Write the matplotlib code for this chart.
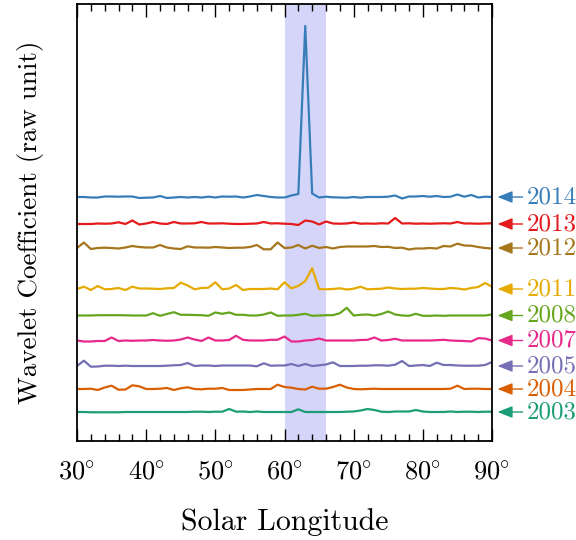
import numpy as np
import matplotlib
matplotlib.use("Agg")
import matplotlib.pyplot as plt

plt.rcParams["mathtext.fontset"] = "cm"
plt.rcParams["font.family"] = "cmr10"
plt.rcParams["axes.unicode_minus"] = False

# ── Data (raw wavelet coefficients, one value per degree 30..90) ──
lon = np.arange(30, 91)
years = ["2014", "2013", "2012", "2011", "2008", "2007", "2005", "2004", "2003"]
offsets = [244, 217, 193, 152, 125.5, 100.5, 75, 52, 29]
colors = ["#377eb8", "#e41a1c", "#a6761d", "#e6ab02", "#66a61e",
          "#e7298a", "#7570b3", "#d95f02", "#1b9e77"]

c2014 = [0, 0, -0.5, -0.5, 0.5, 0.5, 0.3, 0.5, 0.5, -1,
         -0.7, -0.5, 1, -1, -0.5, 0, -0.5, 0, -0.5, 0.3,
         -0.5, 0.5, 0.3, 0.5, -0.5, 0.5, 2, 1, 0, -0.5,
         -0.5, 1.5, 3, 171, 3.5, -0.5, 0.3, -0.3, -0.5, -0.7,
         0, -0.7, 0, 0, 0, 0.3, 1.5, -1.5, 0.5, 0.5,
         1, 0.3, 1, 0, 0.3, 2.5, 0.3, 2, -0.5, 0.3,
         0]
c2013 = [0, 0, 0, 0.5, 0.3, 0.5, 1.7, 0, 3.5, -0.5,
         0.5, 2, 0.5, 0, 2, 0.5, 0.5, 0.7, 2, 0.5,
         0.5, 0.7, 0.3, 0, 0, 0.3, 0.5, 2, 0.5, 0.7,
         0.3, 0, -1, 3.5, 2.5, -0.5, 2.5, 0.5, 0.3, 0.5,
         1.5, 0.3, 0.5, 0.3, 0.7, 0.5, 6, 0.5, 0.7, 0.3,
         0.5, 0.3, 0.5, 0.7, 0.5, 2, 0.5, 0.5, 0.3, 0.5,
         0.7]
c2012 = [0, 5.5, -1, 0, 0.3, 0, -0.5, 0.5, 2, 1,
         0.5, 0.5, 3, 0.5, -0.5, -1, 1.7, 0.5, 0.5, 0.3,
         1, 0.5, 0, 0.3, 0.3, 1, 3, -1.3, -1.3, 5.5,
         0, 0.5, 3, -0.5, 2.3, 0, 1, -0.5, 1, 1.5,
         1.5, 1.5, 1.5, 2, 1, 1.2, 0, 0.3, -1.5, -0.5,
         -0.5, 0, -0.5, 2, 1.5, 4.3, 2.5, 2.3, 1, 0,
         -0.5]
c2011 = [0, 2.3, -1, 3, -0.3, 0, 1, -1, 2.3, 0.5,
         0.5, 0.3, 0, 0.7, 1, 6.3, 3.5, -0.3, 1, 1.3,
         6.7, -0.3, 0.5, 4, -1, 0, 0, 0, 0.5, -0.3,
         6.7, 0.7, 3, 8, 20.7, 0, -0.3, 0, 0.7, -0.5,
         0.3, 2.3, -0.3, 0, 0.3, 1.5, 0.5, 0, 0.3, 0.3,
         1, 0.5, 0, 0, 1, 0.5, -0.5, 1, 2, 6,
         2.3]
c2008 = [0, 0, 0, 0.3, 0.3, 0.3, 0.3, 0.2, 0, 0,
         0, 2.3, -0.3, 1.5, 3.3, 0.7, 0.7, 0.5, 0.3, -0.3,
         3, 1.7, 3, 0.7, 0.7, 0, 0, 1, 3, -0.3,
         0, 0, 0.7, 1.7, -0.3, 0, 0.3, 0.3, 2.3, 7.7,
         0, 0.7, 1, 0, 1.5, 4, 1, 0, -0.3, 1.7,
         -0.3, -0.3, 0, -0.3, 0, 0, 0, 0, 0, 0,
         1]
c2007 = [0, -1, -1, -0.5, -0.5, 3, -0.5, 0, -0.3, 0,
         0, 0.5, 0, -0.3, 0, 1, 3, 1, -0.5, 3,
         0, 0, 0.5, 4.7, 0.7, 0, 0, 0, 0.7, 0.7,
         4, -1, -1, 0, 0.5, 2, 0, 0, 0, 0,
         0, 0.5, 0.7, 3, 0, 0.5, 1.7, 0, 0, 0,
         0, 0, 0.3, 0.7, 0, -0.3, -0.5, -1, 2.3, 2,
         0]
c2005 = [0, 5.3, -0.7, -0.5, 0.3, 0.3, 0, 0.3, 0, 0,
         0, 0, 0, 0.3, 0.7, 1, 3, 0, 0.5, 0.5,
         0, 0.5, 0.5, 0.5, 0.5, 0.5, -0.3, 2.7, 0.3, 0.5,
         0.5, 2, 0, 2, 0, 0.7, 1.5, 3.7, 0, 0,
         0, 0.3, 0.3, 0.7, 0.7, 0.3, 1.3, 5, 0, 0.5,
         1, 0, 3.3, 1, 1, 0.5, 0.3, 0.3, 0.3, 1,
         4]
c2004 = [0, 0, 0.3, -1, 1.5, 3.3, -0.7, -0.5, 3.7, 2.7,
         0, 0, 0.3, 1, -1, 0.7, 1.7, 0, -0.3, 0.3,
         0.3, 1, -1, -1, -1, -0.5, 0, 0, 0, 4.3,
         2, 1.3, 0, -0.5, 2.3, 0.3, 0.3, 2, 4.3, 1.5,
         0, -0.3, 0, 0.3, 0, 0, 0, 0, 0, 0,
         0, 0, 0, 0, 0.3, 3.3, 0, 0.3, 0.3, 0,
         0]
c2003 = [0, 0, -0.3, -0.3, -0.3, -0.3, -0.3, 0, 0, 0,
         0, 0, 0, 0, 0, 0, 0, 0.3, 0.3, 0,
         0.3, 0.3, 3, 0.3, 0.5, 0, 0.5, 0, 0, 0,
         0, 0, 2.7, 0, 0, 0, 0, 0, 0, 0.3,
         0.5, 1.5, 3, 2, 0.3, 0, 0.5, 0.5, 0.5, 2,
         0.5, 0, 0, 0, 0.5, 0, 0.3, 0.3, 0, 0.3,
         0.3]
coeffs = [c2014, c2013, c2012, c2011, c2008, c2007, c2005, c2004, c2003]

highlight = (60, 66)
xticks = [30, 40, 50, 60, 70, 80, 90]
xticklabels = [r"$30\!^\circ$", r"$40\!^\circ$", r"$50\!^\circ$", r"$60\!^\circ$",
               r"$70\!^\circ$", r"$80\!^\circ$", r"$90\!^\circ$"]

# ── Plot ─────────────────────────────────────────────────────────
fig = plt.figure(figsize=(5.76, 5.40), dpi=100)
ax = fig.add_axes([77 / 576, 1 - 441 / 540, 415 / 576, 437 / 540])

ax.axvspan(*highlight, color="#d5d5fa", lw=0, zorder=0)

for yr, off, col, c in zip(years, offsets, colors, coeffs):
    ax.plot(lon, off + np.array(c), color=col, lw=1.6, zorder=2)
    ax.annotate(yr, xy=(1.0, off), xycoords=("axes fraction", "data"),
                xytext=(25, 0), textcoords="offset points",
                ha="left", va="center", fontsize=18, color=col,
                fontfamily="cmr10",
                arrowprops=dict(arrowstyle="-|>,head_length=0.5,head_width=0.2",
                                color=col, lw=1.0, shrinkA=1, shrinkB=4))

ax.set_xlim(30, 90)
ax.set_ylim(0, 437)
ax.set_yticks([])
ax.set_xticks(xticks)
ax.set_xticklabels(xticklabels, fontsize=19)
ax.set_xticks(np.arange(30, 91, 2), minor=True)
ax.tick_params(axis="x", which="major", direction="in", top=True, length=9, width=1.0, pad=14)
ax.tick_params(axis="x", which="minor", direction="in", top=True, length=5, width=1.0)
for s in ax.spines.values():
    s.set_linewidth(1.3)

ax.set_xlabel("Solar Longitude", fontsize=21.5, labelpad=17)
ax.set_ylabel("Wavelet Coefficient (raw unit)", fontsize=19.5, labelpad=24)

fig.savefig("out.png", dpi=100)
